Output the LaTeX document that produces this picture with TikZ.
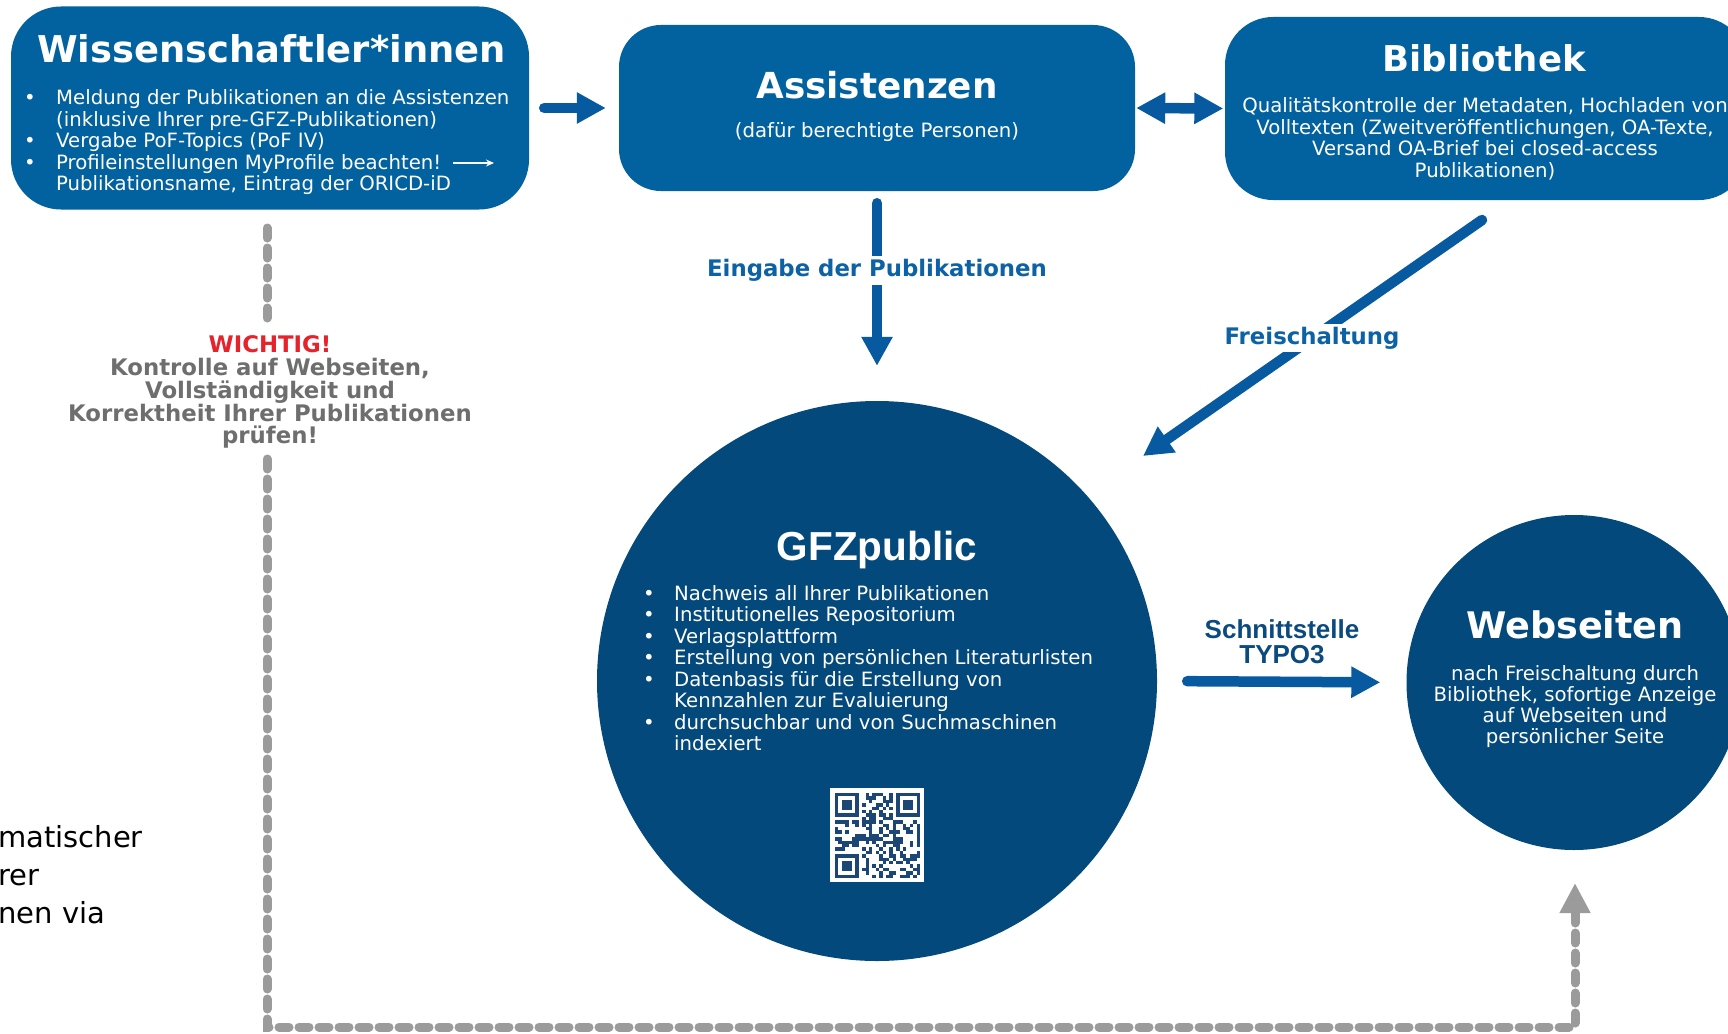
\documentclass[tikz,border=0pt]{standalone}
\usepackage{fontspec}
\setmainfont{DejaVu Sans}
\newfontfamily\arialfont{Liberation Sans}
\usetikzlibrary{arrows.meta,calc}
\definecolor{boxblue}{HTML}{0262A0}
\definecolor{navy}{HTML}{03497C}
\definecolor{arrblue}{HTML}{0759A0}
\definecolor{lblblue}{HTML}{0D62A5}
\definecolor{lblnavy}{HTML}{0B4A7E}
\definecolor{dashgray}{HTML}{9B9B9B}
\definecolor{txtgray}{HTML}{6E6E6E}
\definecolor{alertred}{HTML}{E6222B}
\definecolor{qrcol}{HTML}{1B4675}
\begin{document}
\begin{tikzpicture}[x=1pt,y=-1pt,
  blockbox/.style={fill=boxblue, draw=none, inner sep=0pt},
  disc/.style={circle, fill=navy, draw=none, inner sep=0pt},
  titletxt/.style={font=\fontsize{#1}{#1}\selectfont\bfseries, text=white, inner sep=0pt, anchor=base},
  titletxt/.default=36.3,
  bodytxt/.style={font=\fontsize{19.7}{21.4}\selectfont, text=white, inner sep=0pt},
  flow/.style={draw=arrblue, line width=10.5pt, line cap=round, -{Triangle[length=29pt,width=29.5pt]}},
  twoway/.style={draw=arrblue, line width=10.5pt, {Triangle[length=29pt,width=29.5pt]}-{Triangle[length=29pt,width=29.5pt]}},
  lbl/.style={font=\fontsize{22.8}{24}\selectfont\bfseries, text=lblblue, fill=white, inner xsep=2pt, inner ysep=3pt, anchor=base},
  graydash/.style={draw=dashgray, line width=9pt, line cap=round, dash pattern=on 10pt off 10pt},
  graytxt/.style={font=\fontsize{22.8}{23}\selectfont\bfseries, text=txtgray, inner sep=0pt, anchor=base},
  schtxt/.style={font=\arialfont\fontsize{26}{24.5}\selectfont\bfseries, text=lblnavy, inner sep=0pt, align=center},
  blacktxt/.style={font=\fontsize{29}{38}\selectfont, text=black, inner sep=0pt, anchor=base west}
]
\useasboundingbox (0,0) rectangle (1728,1033);

% ---------- blocks ----------
\node[blockbox, rounded corners=50pt, minimum width=518pt, minimum height=203pt] (wiss) at (270,108) {};
\node[blockbox, rounded corners=42pt, minimum width=516pt, minimum height=166pt] (assist) at (877,108) {};
\node[blockbox, rounded corners=48pt, minimum width=522pt, minimum height=183pt] (bib) at (1486,108.5) {};
\node[disc, minimum size=560pt] (gfz) at (877,681) {};
\node[disc, minimum size=335pt] (web) at (1574,682.5) {};

% ---------- titles ----------
\node[titletxt=36.9] (wissT) at (271.5,63) {Wissenschaftler*innen};
\node[titletxt=35.8] (assistT) at (877,98) {Assistenzen};
\node[titletxt=35.5] (bibT) at (1484,71) {Bibliothek};
\node[titletxt=36.6] (webT) at (1575,638) {Webseiten};
\node[font=\arialfont\fontsize{40.5}{40}\selectfont\bfseries, text=white, inner sep=0pt, anchor=base] (gfzT) at (877,560) {GFZpublic};

% ---------- Wissenschaftler text ----------
\foreach \t [count=\i] in {{Meldung der Publikationen an die Assistenzen},{(inklusive Ihrer pre-GFZ-Publikationen)},{Vergabe PoF-Topics (PoF IV)},{Profileinstellungen MyProfile beachten!},{Publikationsname, Eintrag der ORICD-iD}}
  \node[bodytxt, anchor=base west] (w\i) at (56,{104.5+21.55*(\i-1)}) {\t};
\foreach \i in {1,3,4}
  \node[bodytxt, anchor=base] (wb\i) at (30,{104.5+21.55*(\i-1)}) {•};
\coordinate (wa1) at (453,163);
\coordinate (wa2) at (494,163);
\draw[white, line width=1.8pt, -{Stealth[length=8pt,width=7pt]}] (wa1) -- (wa2);

% ---------- Assistenzen subtitle ----------
\node[bodytxt, anchor=base] (assistS) at (877,137.5) {(dafür berechtigte Personen)};

% ---------- Bibliothek text ----------
\foreach \t [count=\i] in {{Qualitätskontrolle der Metadaten, Hochladen von},{Volltexten (Zweitveröffentlichungen, OA-Texte,},{Versand OA-Brief bei closed-access},{Publikationen)}}
  \node[bodytxt, anchor=base] (bt\i) at (1485,{112.5+21.6*(\i-1)}) {\t};

% ---------- GFZpublic text ----------
\foreach \t [count=\i] in {{Nachweis all Ihrer Publikationen},{Institutionelles Repositorium},{Verlagsplattform},{Erstellung von persönlichen Literaturlisten},{Datenbasis für die Erstellung von},{Kennzahlen zur Evaluierung},{durchsuchbar und von Suchmaschinen},{indexiert}}
  \node[bodytxt, anchor=base west] (g\i) at (674,{600.5+21.45*(\i-1)}) {\t};
\foreach \i in {1,2,3,4,5,7}
  \node[bodytxt, anchor=base] (gb\i) at (649,{600.5+21.45*(\i-1)}) {•};

% ---------- QR code ----------
\node[fill=white, draw=none, inner sep=0pt, minimum size=94pt] (qr) at (877,835) {};
\def\qx{835}\def\qy{793}\def\qm{3.4}
\foreach \ox/\oy in {0/0,18/0,0/18}{
  \fill[qrcol] ({\qx+\ox*\qm},{\qy+\oy*\qm}) rectangle +({7*\qm},{7*\qm});
  \fill[white] ({\qx+(\ox+1)*\qm},{\qy+(\oy+1)*\qm}) rectangle +({5*\qm},{5*\qm});
  \fill[qrcol] ({\qx+(\ox+2)*\qm},{\qy+(\oy+2)*\qm}) rectangle +({3*\qm},{3*\qm});
}
\foreach \i in {0,...,24}{
  \foreach \j in {0,...,24}{
    \pgfmathtruncatemacro\sk{(\i<8)*(\j<8)+(\i>16)*(\j<8)+(\i<8)*(\j>16)}
    \pgfmathtruncatemacro\v{mod(\i*\i*7+\j*\j*3+\i*\j*11+\i*31+\j*17+mod(\i*\j,7)*\i*5,13)}
    \ifnum\sk=0 \ifnum\v<6
      \fill[qrcol] ({\qx+\i*\qm},{\qy+\j*\qm}) rectangle +(\qm,\qm);
    \fi\fi
  }
}

% ---------- Webseiten text ----------
\foreach \t [count=\i] in {{nach Freischaltung durch},{Bibliothek, sofortige Anzeige},{auf Webseiten und},{persönlicher Seite}}
  \node[bodytxt, anchor=base] (wt\i) at (1575,{680+21.2*(\i-1)}) {\t};

% ---------- blue connectors ----------
\draw[flow, shorten <=15pt, shorten >=13pt] (wiss.east) -- (assist.west);
\draw[twoway, shorten <=1pt, shorten >=1.5pt] (assist.east) -- (bib.west);
\draw[flow, shorten <=12pt, shorten >=35pt] (assist.south) -- (gfz.north);
\node[lbl] (eing) at (877,276.7) {Eingabe der Publikationen};
\coordinate (frA) at (1482,220);
\coordinate (frB) at (1143,456);
\draw[flow] (frA) -- (frB);
\node[lbl] (frei) at (1312,344) {Freischaltung};
\draw[flow, shorten <=30pt, shorten >=26pt] (gfz.east) -- (web.west);
\node[schtxt] (sch) at (1282,641.5) {Schnittstelle\\TYPO3};

% ---------- gray feedback path ----------
\coordinate (d0) at (267,228);
\coordinate (d1) at (267,325);
\coordinate (d2) at (267,459);
\coordinate (d3) at (267,1027);
\coordinate (d4) at (1575,1027);
\coordinate (d5) at (1575,883);
\draw[graydash] (d0) -- (d1);
\draw[graydash, -{Triangle[length=30pt,width=29pt]}] (d2) -- (d3) -- (d4) -- (d5);
\node[graytxt, text=alertred] (wich) at (270,352) {WICHTIG!};
\node[graytxt] (k1) at (270,375) {Kontrolle auf Webseiten,};
\node[graytxt] (k2) at (270,398) {Vollständigkeit und};
\node[graytxt] (k3) at (270,421) {Korrektheit Ihrer Publikationen};
\node[graytxt] (k4) at (270,443) {prüfen!};

% ---------- cropped text at left ----------
\node[blacktxt] (a1) at (-2,847) {matischer};
\node[blacktxt] (a2) at (-2,885) {rer};
\node[blacktxt] (a3) at (-2,923) {nen via};
\end{tikzpicture}
\end{document}
